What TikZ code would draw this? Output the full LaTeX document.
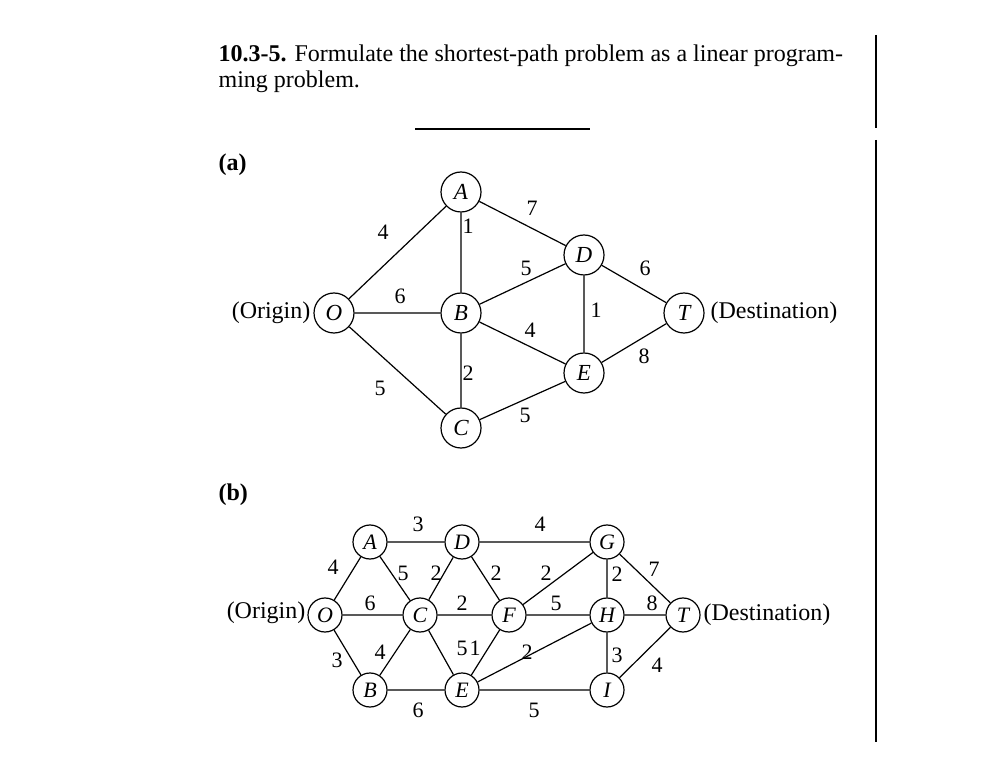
\documentclass[tikz,border=0pt]{standalone}
\usepackage{fontspec}
\setmainfont{Liberation Serif}
\begin{document}
\begin{tikzpicture}[x=1pt,y=-1pt,
  na/.style={draw,circle,minimum size=40pt,inner sep=0pt,font=\fontsize{23}{23}\selectfont\itshape},
  nb/.style={draw,circle,minimum size=34pt,inner sep=0pt,font=\fontsize{22}{22}\selectfont\itshape},
  lab/.style={font=\fontsize{22}{22}\selectfont,inner sep=0pt},
  txt/.style={font=\fontsize{24}{26}\selectfont,inner sep=0pt},
  every path/.style={line width=1.2pt}]
\useasboundingbox (0,0) rectangle (1007,783);
\fill[white] (0,0) rectangle (1007,783);
\node[txt,anchor=north west,align=left] (title) at (218,44) {\textbf{10.3-5.} Formulate the shortest-path problem as a linear program-\\ming problem.};
\draw (876,35) -- (876,128);
\draw (876,140) -- (876,742);
\draw (415,129) -- (590,129);
\node[txt,anchor=west] (pa) at (218,165) {\textbf{(a)}};
\node[txt,anchor=west] (pb) at (218,495) {\textbf{(b)}};
% (a)
\node[na] (O) at (334,313) {O};
\node[na] (A) at (461,192) {A};
\node[na] (B) at (461,313) {B};
\node[na] (C) at (461,428) {C};
\node[na] (D) at (584,255) {D};
\node[na] (E) at (584,373) {E};
\node[na] (T) at (684,313) {T};
\node[txt,anchor=east] (or) at (311,313) {(Origin)};
\node[txt,anchor=west] (de) at (710,313) {(Destination)};
\draw (O)--(A) (O)--(B) (O)--(C) (A)--(B) (A)--(D) (B)--(D) (B)--(E) (B)--(C) (C)--(E) (D)--(E) (D)--(T) (E)--(T);
\foreach \p/\t in {{383,232}/4,{400,296}/6,{380,388}/5,{468,226}/1,{532,208}/7,{526,268}/5,{530,330}/4,{468,373}/2,{525,415}/5,{596,310}/1,{645,268}/6,{644,356}/8}
  \node[lab] at (\p) {\t};
% (b)
\node[nb] (bO) at (325,615) {O};
\node[nb] (bA) at (370,542) {A};
\node[nb] (bB) at (370,690) {B};
\node[nb] (bC) at (420,615) {C};
\node[nb] (bD) at (462,542) {D};
\node[nb] (bE) at (462,690) {E};
\node[nb] (bF) at (509,615) {F};
\node[nb] (bG) at (607,542) {G};
\node[nb] (bH) at (607,615) {H};
\node[nb] (bI) at (607,690) {I};
\node[nb] (bT) at (683,615) {T};
\node[txt,anchor=east] (bor) at (306,613) {(Origin)};
\node[txt,anchor=west] (bde) at (703,615) {(Destination)};
\draw (bO)--(bA) (bO)--(bC) (bO)--(bB) (bA)--(bD) (bA)--(bC) (bB)--(bC) (bB)--(bE)
  (bC)--(bD) (bC)--(bF) (bC)--(bE) (bD)--(bF) (bD)--(bG) (bE)--(bF) (bE)--(bH) (bE)--(bI)
  (bF)--(bG) (bF)--(bH) (bG)--(bH) (bG)--(bT) (bH)--(bT) (bH)--(bI) (bI)--(bT);
\foreach \p/\t in {{418,524}/3,{540,524}/4,{333,567}/4,{403,573}/5,{436,573}/2,{496,573}/2,{546,573}/2,{617,574}/2,{654,569}/7,{370,603}/6,{462,603}/2,{556,603}/5,{652,603}/8,{337,660}/3,{380,652}/4,{462,648}/5,{475,648}/1,{527,652}/2,{617,655}/3,{657,665}/4,{418,710}/6,{534,710}/5}
  \node[lab] at (\p) {\t};
\end{tikzpicture}
\end{document}
